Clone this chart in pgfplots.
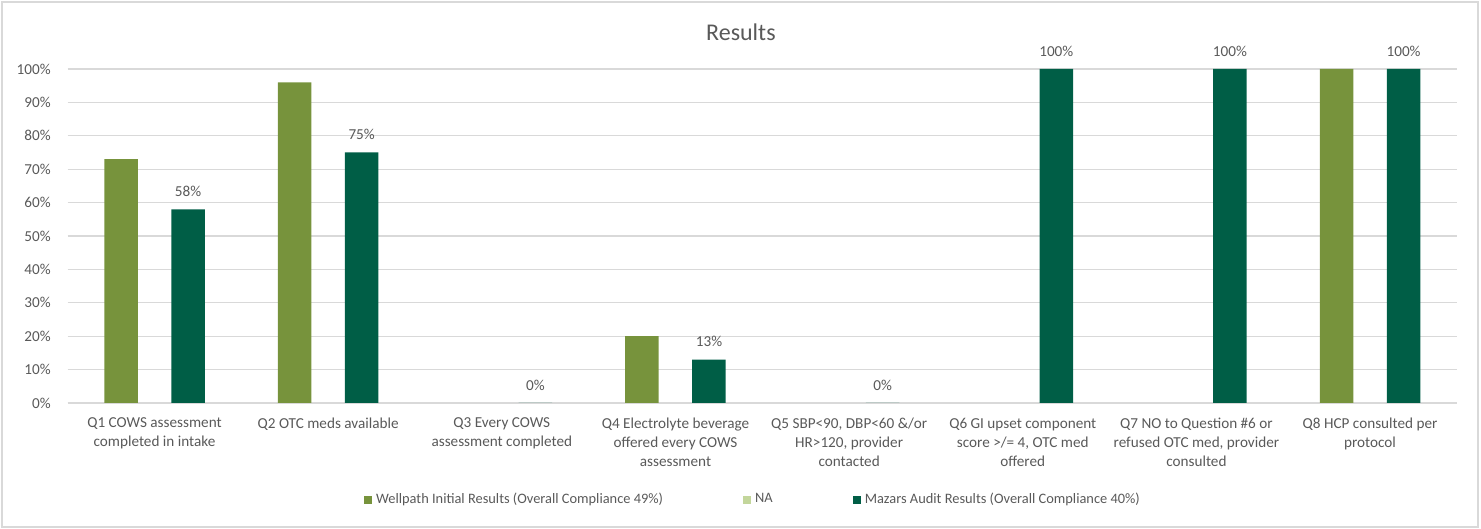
\documentclass[border=0pt]{standalone}
\usepackage{fontspec}
\setmainfont{Carlito}
\usepackage{pgfplots}
\pgfplotsset{compat=1.18}
\definecolor{wellpath}{HTML}{77933C}
\definecolor{naclr}{HTML}{C3D69B}
\definecolor{mazars}{HTML}{005E46}
\definecolor{txt}{HTML}{595959}
\definecolor{gridc}{HTML}{D9D9D9}
\begin{document}
\begin{tikzpicture}
\path[use as bounding box] (0,0) rectangle (740.5pt,264.5pt);
\draw[gridc, line width=0.6pt] (1pt,1pt) rectangle (739pt,263.5pt);
\begin{axis}[
  at={(33.85pt,63pt)}, anchor=south west,
  scale only axis, width=694.6pt, height=167pt,
  ybar, bar width=16.75pt,
  xmin=-0.5, xmax=7.5, ymin=0, ymax=100,
  xtick={0,...,7},
  xticklabels={
    {Q1 COWS assessment\\completed in intake},
    {Q2 OTC meds available},
    {Q3 Every COWS\\assessment completed},
    {Q4 Electrolyte beverage\\offered every COWS\\assessment},
    {Q5 SBP<90, DBP<60 \&/or\\HR>120, provider\\contacted},
    {Q6 GI upset component\\score >/= 4, OTC med\\offered},
    {Q7 NO to Question \#6 or\\refused OTC med, provider\\consulted},
    {Q8 HCP consulted per\\protocol}},
  ytick={0,10,...,100},
  yticklabel={\pgfmathprintnumber{\tick}\%},
  /pgf/number format/assume math mode=true,
  major tick length=0pt,
  ymajorgrids, grid style={gridc, line width=0.6pt},
  axis x line*=bottom, axis y line*=left,
  x axis line style={draw=gridc, line width=0.6pt},
  y axis line style={draw=none},
  tick label style={font=\fontsize{7.6}{9.5}\selectfont, text=txt},
  xticklabel style={align=center, yshift=-4pt},
  yticklabel style={xshift=-5pt},
  title={Results},
  title style={font=\fontsize{12}{14}\selectfont, text=txt, at={(0.4846,1)}, anchor=center, yshift=12.5pt},
  clip=false,
  legend style={draw=none, fill=none, at={(0.494,-0.29)}, anchor=center,
    font=\fontsize{7.2}{9}\selectfont, text=txt,
    /tikz/every even column/.append style={column sep=38pt}},
  legend columns=3,
  legend image code/.code={\fill[#1] (0pt,-2pt) rectangle (4pt,2pt);},
]
\addplot[fill=wellpath, draw=none, bar shift=-16.75pt] coordinates {(0,73) (1,96) (3,20) (7,100)};
\addlegendentry{Wellpath Initial Results (Overall Compliance 49\%)}
\addlegendimage{fill=naclr, draw=none}
\addlegendentry{NA}
\addplot[fill=mazars, draw=none, bar shift=16.75pt,
  nodes near coords={\pgfmathprintnumber{\pgfplotspointmeta}\%},
  point meta=y,
  nodes near coords style={font=\fontsize{7.6}{9.5}\selectfont, text=txt, yshift=2.8pt}]
  coordinates {(0,58) (1,75) (2,0) (3,13) (4,0) (5,100) (6,100) (7,100)};
\addlegendentry{Mazars Audit Results (Overall Compliance 40\%)}
\end{axis}
\end{tikzpicture}
\end{document}
